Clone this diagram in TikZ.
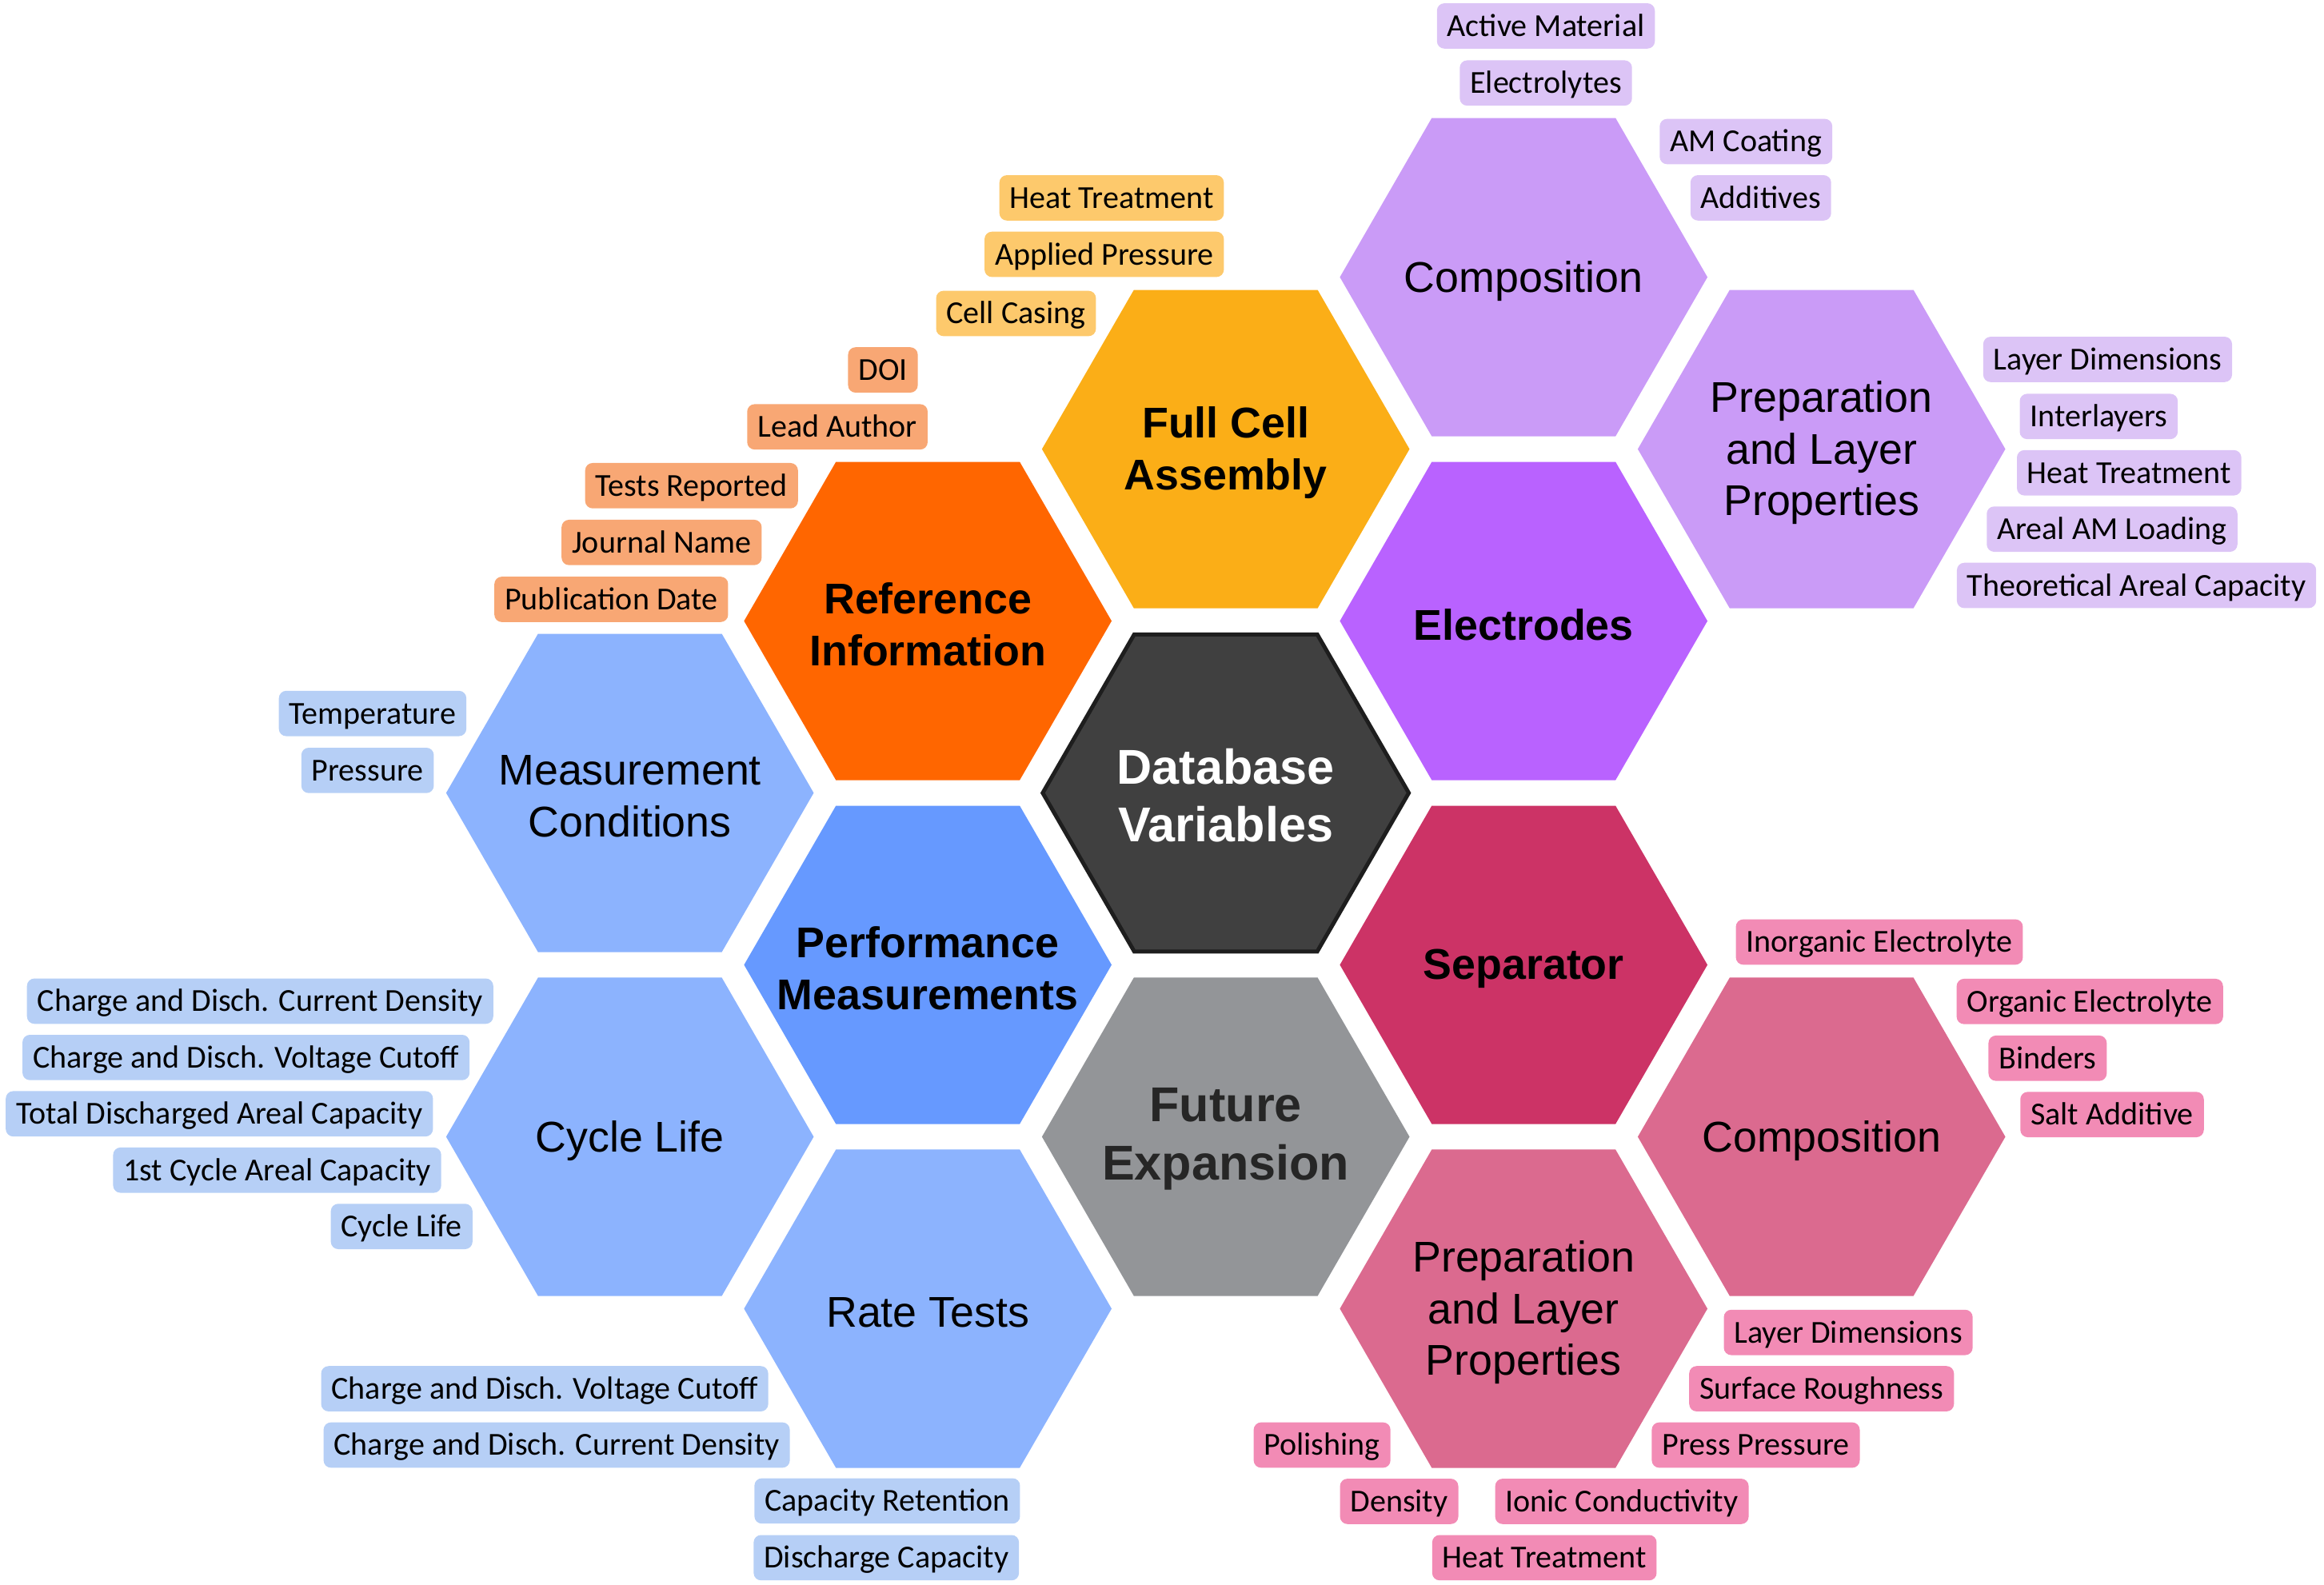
\documentclass[tikz,border=0pt]{standalone}
\usepackage{fontspec}
\setmainfont{Liberation Sans}
\newfontfamily\tagfont{Carlito}
\usetikzlibrary{shapes.geometric}
\definecolor{dbhex}{HTML}{404040}
\definecolor{dbedge}{HTML}{1E1E1E}
\definecolor{fullcellhex}{HTML}{FBAE17}
\definecolor{fullcelltag}{HTML}{FDC96C}
\definecolor{refhex}{HTML}{FF6600}
\definecolor{reftag}{HTML}{F8A774}
\definecolor{elechex}{HTML}{B962FF}
\definecolor{elecsub}{HTML}{CA9BF7}
\definecolor{electag}{HTML}{DCC4F6}
\definecolor{sephex}{HTML}{CC3366}
\definecolor{sepsub}{HTML}{DB6A8F}
\definecolor{septag}{HTML}{F28BB5}
\definecolor{perfhex}{HTML}{6699FF}
\definecolor{perfsub}{HTML}{8CB3FE}
\definecolor{perftag}{HTML}{B6CFF6}
\definecolor{futurehex}{HTML}{939598}
\definecolor{futuretext}{HTML}{262626}
\begin{document}
\begin{tikzpicture}[x=1pt,y=-1pt]
    \tikzset{
        hexa/.style={regular polygon, regular polygon sides=6, minimum size=248pt, inner sep=0pt},
        hextext/.style={align=center, inner sep=0pt, yshift=-2.5pt, font=\fontsize{29}{35}\selectfont},
        hexbold/.style={hextext, font=\bfseries\fontsize{29}{35}\selectfont},
        hexbig/.style={hextext, yshift=1pt, font=\bfseries\fontsize{33}{39}\selectfont},
        tag/.style={rounded corners=5pt, minimum height=30.6pt, inner xsep=7pt, inner ysep=0pt, text height=16pt, text depth=2pt, font=\tagfont\fontsize{21.6}{24}\selectfont},
        fctag/.style={tag, fill=fullcelltag},
        reftag/.style={tag, fill=reftag},
        eltag/.style={tag, fill=electag},
        perftag/.style={tag, fill=perftag},
        septag/.style={tag, fill=septag}
    }
    \useasboundingbox (0,0) rectangle (1568,1069);
    \node[hexa, fill=dbhex, draw=dbedge, line width=2.7pt, minimum size=247pt] (db) at (827,535) {};
    \node[hexa, fill=fullcellhex] (fullcell) at (827,303) {};
    \node[hexa, fill=refhex] (refinfo) at (626,419) {};
    \node[hexa, fill=elechex] (electrodes) at (1028,419) {};
    \node[hexa, fill=perfhex] (perf) at (626,651) {};
    \node[hexa, fill=sephex] (separator) at (1028,651) {};
    \node[hexa, fill=futurehex] (future) at (827,767) {};
    \node[hexa, fill=elecsub] (elcomp) at (1028,187) {};
    \node[hexa, fill=elecsub] (elprep) at (1229,303) {};
    \node[hexa, fill=perfsub] (meascond) at (425,535) {};
    \node[hexa, fill=perfsub] (cyclelife) at (425,767) {};
    \node[hexa, fill=perfsub] (ratetests) at (626,883) {};
    \node[hexa, fill=sepsub] (sepcomp) at (1229,767) {};
    \node[hexa, fill=sepsub] (sepprep) at (1028,883) {};
    \node[hexbig, text=white] (db-text) at (db) {Database\\Variables};
    \node[hexbold] (fullcell-text) at (fullcell) {Full Cell\\Assembly};
    \node[hexbold] (refinfo-text) at (refinfo) {Reference\\Information};
    \node[hexbold] (electrodes-text) at (electrodes) {Electrodes};
    \node[hexbold] (perf-text) at (perf) {Performance\\Measurements};
    \node[hexbold] (separator-text) at (separator) {Separator};
    \node[hexbig, text=futuretext] (future-text) at (future) {Future\\Expansion};
    \node[hextext] (elcomp-text) at (elcomp) {Composition};
    \node[hextext] (elprep-text) at (elprep) {Preparation\\and Layer\\Properties};
    \node[hextext] (meascond-text) at (meascond) {Measurement\\Conditions};
    \node[hextext] (cyclelife-text) at (cyclelife) {Cycle Life};
    \node[hextext] (ratetests-text) at (ratetests) {Rate Tests};
    \node[hextext] (sepcomp-text) at (sepcomp) {Composition};
    \node[hextext] (sepprep-text) at (sepprep) {Preparation\\and Layer\\Properties};
    \node[fctag] (fc-heat) at (750,133.5) {Heat Treatment};
    \node[fctag] (fc-press) at (745,171.6) {Applied Pressure};
    \node[fctag] (fc-casing) at (685.5,211.5) {Cell Casing};
    \node[reftag] (ref-doi) at (595.7,249.6) {DOI};
    \node[reftag] (ref-author) at (565,288) {Lead Author};
    \node[reftag] (ref-tests) at (466.6,327.7) {Tests Reported};
    \node[reftag] (ref-journal) at (446.4,366) {Journal Name};
    \node[reftag] (ref-date) at (412.4,404.4) {Publication Date};
    \node[eltag] (ec-active) at (1043,17.5) {Active Material};
    \node[eltag] (ec-electrolytes) at (1043,56) {Electrolytes};
    \node[eltag] (ec-coating) at (1178,95.5) {AM Coating};
    \node[eltag] (ec-additives) at (1188,133.5) {Additives};
    \node[eltag] (ep-dims) at (1422,242.5) {Layer Dimensions};
    \node[eltag] (ep-inter) at (1416,281) {Interlayers};
    \node[eltag] (ep-heat) at (1436.5,319) {Heat Treatment};
    \node[eltag] (ep-loading) at (1425,357) {Areal AM Loading};
    \node[eltag] (ep-theo) at (1441.5,395) {Theoretical Areal Capacity};
    \node[perftag] (mc-temp) at (251.4,481.4) {Temperature};
    \node[perftag] (mc-press) at (248,519.8) {Pressure};
    \node[perftag] (cl-current) at (175.5,675.5) {Charge and Disch. Current Density};
    \node[perftag] (cl-voltage) at (166,713.5) {Charge and Disch. Voltage Cutoff};
    \node[perftag] (cl-total) at (148,751.5) {Total Discharged Areal Capacity};
    \node[perftag] (cl-first) at (187,789.5) {1st Cycle Areal Capacity};
    \node[perftag] (cl-life) at (271,827.5) {Cycle Life};
    \node[perftag] (rt-voltage) at (367.5,937) {Charge and Disch. Voltage Cutoff};
    \node[perftag] (rt-current) at (375.6,975) {Charge and Disch. Current Density};
    \node[perftag] (rt-retention) at (598.6,1012.7) {Capacity Retention};
    \node[perftag] (rt-discharge) at (598,1051) {Discharge Capacity};
    \node[septag] (sc-inorganic) at (1268,635.6) {Inorganic Electrolyte};
    \node[septag] (sc-organic) at (1410,675.7) {Organic Electrolyte};
    \node[septag] (sc-binders) at (1381.5,714) {Binders};
    \node[septag] (sc-salt) at (1425,752) {Salt Additive};
    \node[septag] (sp-dims) at (1247,899) {Layer Dimensions};
    \node[septag] (sp-rough) at (1229,937) {Surface Roughness};
    \node[septag] (sp-press) at (1184.6,975) {Press Pressure};
    \node[septag] (sp-polish) at (892,975) {Polishing};
    \node[septag] (sp-density) at (944,1013) {Density};
    \node[septag] (sp-ionic) at (1094.3,1013) {Ionic Conductivity};
    \node[septag] (sp-heat) at (1042,1051) {Heat Treatment};
\end{tikzpicture}
\end{document}
